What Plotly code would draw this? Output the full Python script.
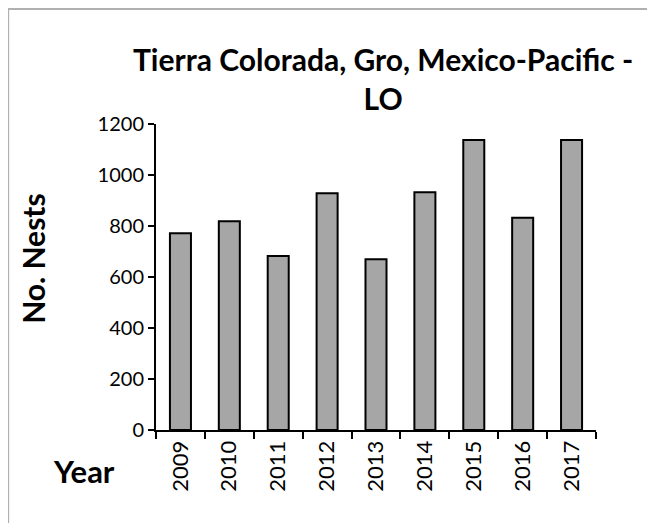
import plotly.graph_objects as go

years = ["2009", "2010", "2011", "2012", "2013", "2014", "2015", "2016", "2017"]
nests = [772, 819, 682, 928, 670, 932, 1137, 832, 1137]
y_ticks = [0, 200, 400, 600, 800, 1000, 1200]

FONT = "Lato"

fig = go.Figure()
fig.add_bar(x=years, y=nests,
            marker=dict(color="#a6a6a6", line=dict(color="black", width=2)))

# page body has an 8px margin, so the figure is 8px smaller than the window
fig.update_layout(
    width=647, height=515,
    margin=dict(l=148, r=59, t=116, b=93),
    paper_bgcolor="white", plot_bgcolor="white",
    bargap=0.57, showlegend=False,
    font=dict(family=FONT, size=20, color="black"),
)
fig.update_xaxes(
    type="category", showline=True, linecolor="black", linewidth=2,
    ticks="outside", tickson="boundaries", ticklen=7, tickwidth=2,
    tickcolor="black", tickangle=-90, showgrid=False,
    tickfont=dict(size=22),
)
fig.update_yaxes(
    range=[0, 1200], tickvals=y_ticks, showline=True, linecolor="black",
    linewidth=2, ticks="outside", ticklen=6, tickwidth=2, tickcolor="black",
    showgrid=False, zeroline=False, tickfont=dict(size=20),
)

# title + axis labels as annotations for exact placement
fig.add_annotation(text="<b>Tierra Colorada, Gro, Mexico-Pacific -<br>LO</b>",
                   xref="paper", yref="paper", x=0.516, y=1.15,
                   xanchor="center", yanchor="middle", showarrow=False,
                   font=dict(size=30, family=FONT))
fig.add_annotation(text="<b>No. Nests</b>", textangle=-90,
                   xref="paper", yref="paper", x=-0.28, y=0.562,
                   xanchor="center", yanchor="middle", showarrow=False,
                   font=dict(size=30, family=FONT))
fig.add_annotation(text="<b>Year</b>",
                   xref="paper", yref="paper", x=-0.164, y=-0.134,
                   xanchor="center", yanchor="middle", showarrow=False,
                   font=dict(size=31, family=FONT))

# chart-area border
fig.add_shape(type="rect", xref="paper", yref="paper",
              x0=-0.336, x1=1.125, y0=-0.4, y1=1.376,
              line=dict(color="#b0b0b0", width=2), layer="below")

fig.write_html("out.html")
